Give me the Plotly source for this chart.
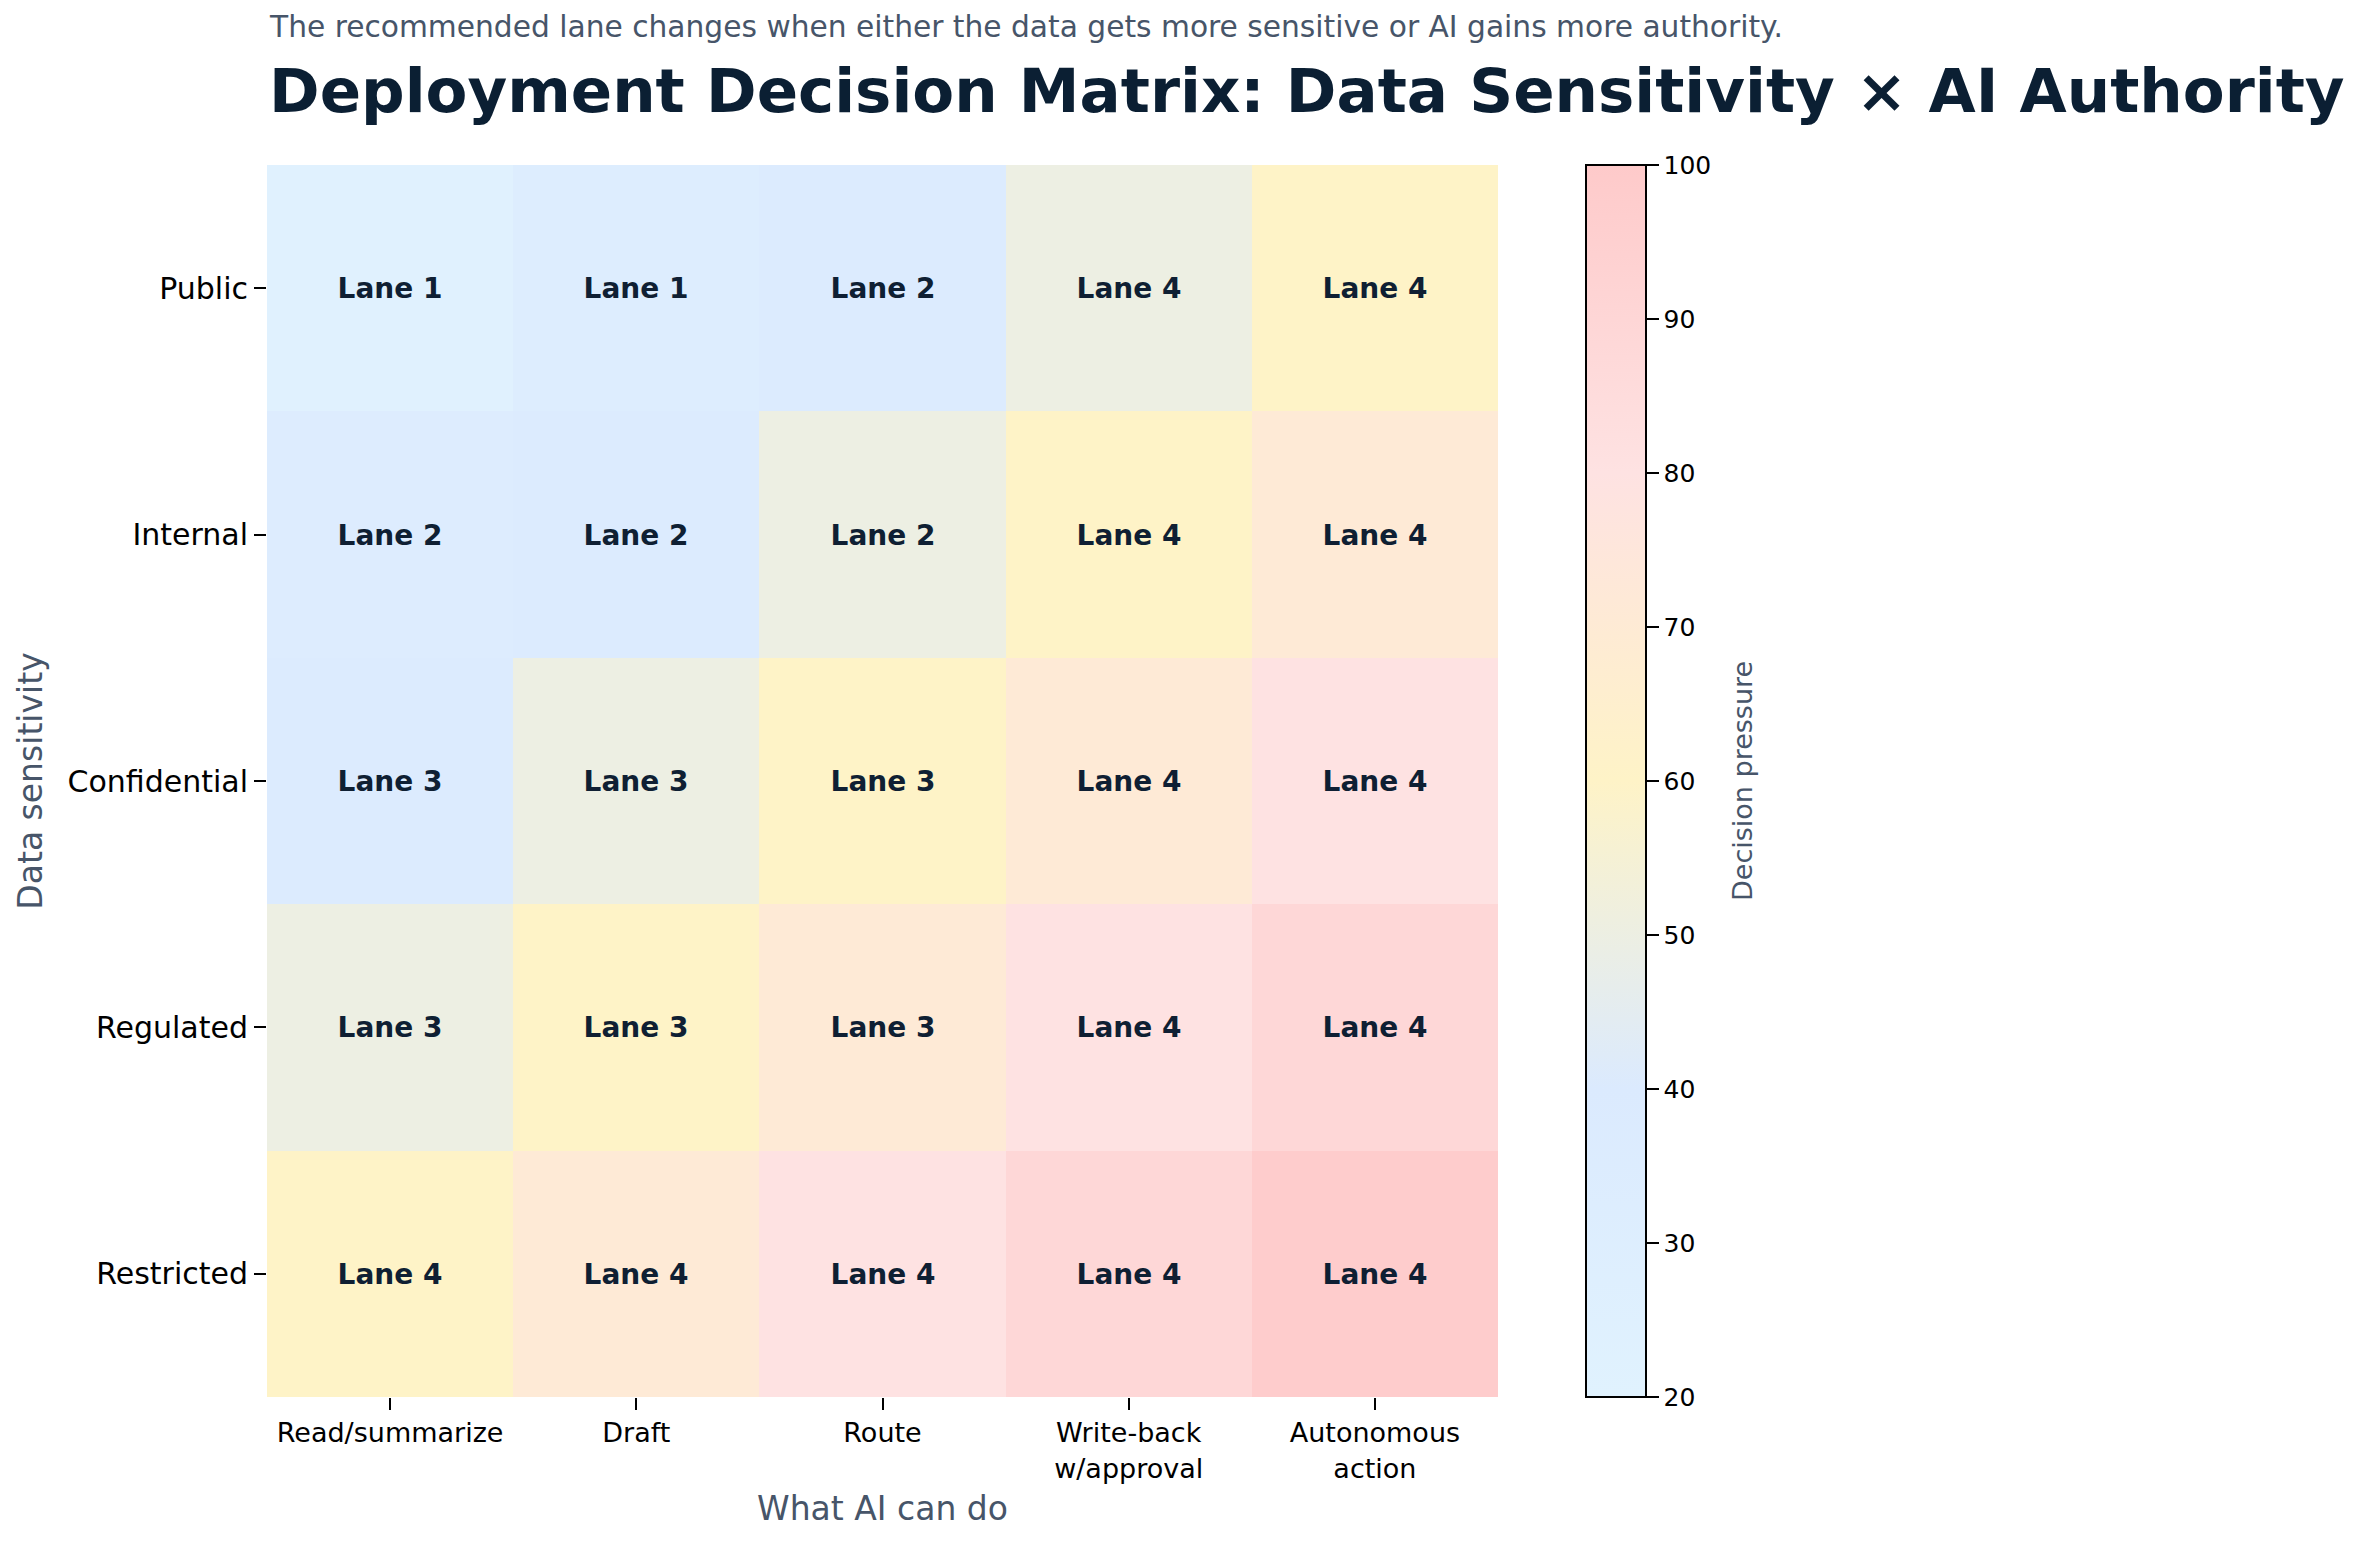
import plotly.graph_objects as go

actions = ["Read/summarize", "Draft", "Route", "Write-back<br>w/approval", "Autonomous<br>action"]
sensitivity = ["Public", "Internal", "Confidential", "Regulated", "Restricted"]

pressure_public = [22, 32, 38, 50, 60]
pressure_internal = [34, 38, 50, 60, 71]
pressure_confidential = [38, 50, 60, 71, 80]
pressure_regulated = [50, 60, 71, 80, 89]
pressure_restricted = [60, 71, 80, 89, 98]

lanes_public = ["Lane 1", "Lane 1", "Lane 2", "Lane 4", "Lane 4"]
lanes_internal = ["Lane 2", "Lane 2", "Lane 2", "Lane 4", "Lane 4"]
lanes_confidential = ["Lane 3", "Lane 3", "Lane 3", "Lane 4", "Lane 4"]
lanes_regulated = ["Lane 3", "Lane 3", "Lane 3", "Lane 4", "Lane 4"]
lanes_restricted = ["Lane 4", "Lane 4", "Lane 4", "Lane 4", "Lane 4"]

z = [pressure_public, pressure_internal, pressure_confidential, pressure_regulated, pressure_restricted]
text = [lanes_public, lanes_internal, lanes_confidential, lanes_regulated, lanes_restricted]

W, H = 2365, 1542
L, R, T, B = 267, 1498, 165, 1397
pw = R - L

FONT = "DejaVu Sans"
colorscale = [[0.0, "#e0f2fe"], [0.25, "#dbeafe"], [0.5, "#fef3c7"], [0.75, "#fee2e2"], [1.0, "#fecaca"]]

fig = go.Figure(go.Heatmap(
    z=z, x=actions, y=sensitivity, text=text,
    texttemplate="%{text}",
    textfont=dict(family=FONT, size=28, color="#0f1f33", weight="bold"),
    colorscale=colorscale, zmin=20, zmax=100,
    xgap=0, ygap=0,
    colorbar=dict(
        x=(1586 - L) / pw, xanchor="left", xpad=0, ypad=0,
        y=0.5, yanchor="middle", len=1.0, lenmode="fraction",
        thickness=60, thicknessmode="pixels",
        outlinewidth=2, outlinecolor="black",
        ticks="outside", ticklen=12, tickwidth=2, tickcolor="black",
        tickvals=[20, 30, 40, 50, 60, 70, 80, 90, 100],
        tickfont=dict(family=FONT, size=25, color="black"),
    ),
))

fig.update_layout(
    width=W, height=H,
    margin=dict(l=L, r=W - R, t=T, b=H - B),
    paper_bgcolor="white", plot_bgcolor="white",
    xaxis=dict(
        showgrid=False, zeroline=False, showline=False,
        ticks="outside", ticklen=12, tickwidth=2, tickcolor="black",
        tickfont=dict(family=FONT, size=27, color="black"),
        title=dict(text="What AI can do", font=dict(family=FONT, size=33, color="#475569"), standoff=14),
    ),
    yaxis=dict(
        showgrid=False, zeroline=False, showline=False, autorange="reversed",
        ticks="outside", ticklen=12, tickwidth=2, tickcolor="black",
        tickfont=dict(family=FONT, size=30, color="black"),
        title=dict(text="Data sensitivity", font=dict(family=FONT, size=33, color="#475569"), standoff=14),
    ),
    annotations=[
        dict(text="<b>Deployment Decision Matrix: Data Sensitivity × AI Authority</b>",
             xref="paper", yref="paper", x=0, xanchor="left",
             y=(H - 90 - (H - B)) / (B - T), yanchor="middle", showarrow=False,
             font=dict(family=FONT, size=61, color="#0b1f33")),
        dict(text="The recommended lane changes when either the data gets more sensitive or AI gains more authority.",
             xref="paper", yref="paper", x=0, xanchor="left",
             y=(H - 27 - (H - B)) / (B - T), yanchor="middle", showarrow=False,
             font=dict(family=FONT, size=29.7, color="#475569")),
        dict(text="Decision pressure", xref="paper", yref="paper",
             x=(1742 - L) / pw, xanchor="center", y=0.5, yanchor="middle",
             textangle=-90, showarrow=False,
             font=dict(family=FONT, size=27, color="#475569")),
    ],
)

fig.write_html("out.html")
